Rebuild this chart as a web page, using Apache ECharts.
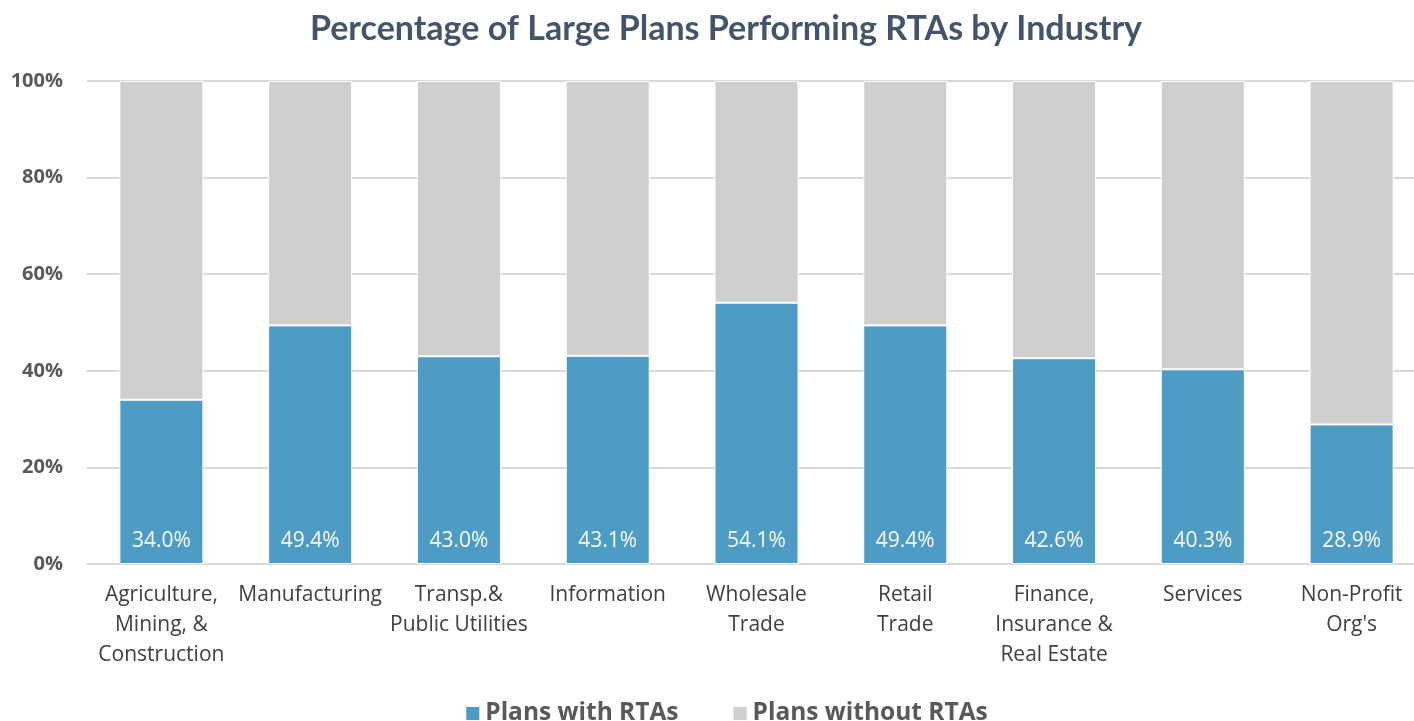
<!DOCTYPE html>
<html>
<head>
<meta charset="utf-8">
<script src="https://cdn.jsdelivr.net/npm/echarts@6/dist/echarts.min.js"></script>
<style>html,body{margin:0;padding:0;background:#fff;overflow:hidden;width:1414px;height:721px}#c{width:1452px;height:721px}</style>
</head>
<body>
<div id="c"></div>
<script>
const categories = ["Agriculture,\nMining, &\nConstruction", "Manufacturing", "Transp.&\nPublic Utilities", "Information", "Wholesale\nTrade", "Retail\nTrade", "Finance,\nInsurance &\nReal Estate", "Services", "Non-Profit\nOrg's"];
const withRTAs = [34.0, 49.4, 43.0, 43.1, 54.1, 49.4, 42.6, 40.3, 28.9];
const withoutRTAs = [66.0, 50.6, 57.0, 56.9, 45.9, 50.6, 57.4, 59.7, 71.1];
const yTicks = [0, 20, 40, 60, 80, 100];

const chart = echarts.init(document.getElementById('c'), null, {renderer: 'canvas'});
chart.setOption({
  animation: false,
  backgroundColor: '#ffffff',
  title: {
    text: 'Percentage of Large Plans Performing RTAs by Industry',
    left: 'center', top: 7,
    textStyle: {fontFamily: 'Lato', fontWeight: 'bold', fontSize: 34, color: '#44546A'}
  },
  legend: {
    bottom: -10, left: 'center',
    itemWidth: 15, itemHeight: 15, itemGap: 53,
    icon: 'rect',
    textStyle: {fontFamily: 'Open Sans', fontWeight: 'bold', fontSize: 24.5, color: '#595959'},
    data: ['Plans with RTAs', 'Plans without RTAs']
  },
  grid: {left: 87, top: 81, right: 26, height: 483, containLabel: false},
  xAxis: {
    type: 'category', data: categories,
    axisLine: {lineStyle: {color: '#d9d9d9', width: 2}},
    axisTick: {show: false},
    axisLabel: {fontFamily: 'Open Sans', fontSize: 21, color: '#404040', lineHeight: 30, margin: 16, interval: 0}
  },
  yAxis: {
    type: 'value', min: 0, max: 100, interval: 20,
    axisLine: {show: false}, axisTick: {show: false},
    splitLine: {lineStyle: {color: '#d9d9d9', width: 2}},
    axisLabel: {fontFamily: 'Open Sans', fontWeight: 'bold', fontSize: 20, color: '#595959', margin: 24,
      formatter: v => yTicks.includes(v) ? v + '%' : ''}
  },
  series: [
    {
      name: 'Plans with RTAs', type: 'bar', stack: 'a', data: withRTAs, barWidth: 84,
      itemStyle: {color: '#4797c2', opacity: 0.96, borderColor: '#ffffff', borderWidth: 1},
      label: {show: true, position: 'insideBottom', distance: 12, color: '#ffffff',
        fontFamily: 'Open Sans', fontSize: 21, formatter: p => p.value.toFixed(1) + '%'}
    },
    {
      name: 'Plans without RTAs', type: 'bar', stack: 'a', data: withoutRTAs, barWidth: 84,
      itemStyle: {color: '#cdcdcd', opacity: 0.96, borderColor: '#ffffff', borderWidth: 1}
    }
  ]
});
</script>
</body>
</html>
